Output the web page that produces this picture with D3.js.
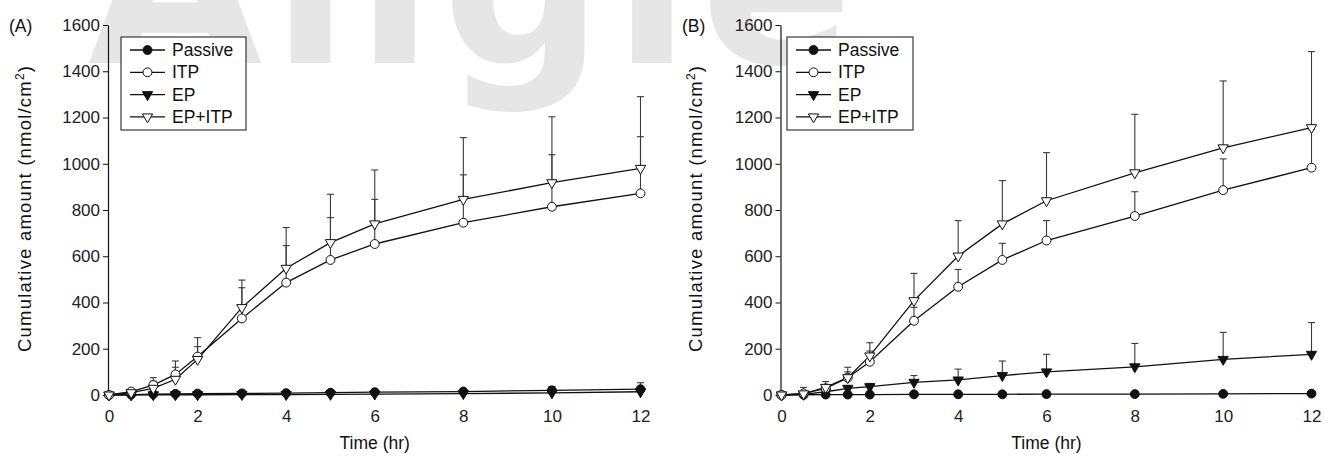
<!DOCTYPE html>
<html>
<head>
<meta charset="utf-8">
<script src="https://cdn.jsdelivr.net/npm/d3@7"></script>
<style>
  body { margin: 0; background: #fff; }
  svg { display: block; font-family: "Liberation Sans", Arial, Helvetica, sans-serif; }
</style>
</head>
<body>
<div id="chart"></div>
<script>
// sampling times (hr)
const times = [0, 0.5, 1, 1.5, 2, 3, 4, 5, 6, 8, 10, 12];
const yTicks = [0, 200, 400, 600, 800, 1000, 1200, 1400, 1600];
const xTicks = [0, 2, 4, 6, 8, 10, 12];
const seriesNames = ["Passive", "ITP", "EP", "EP+ITP"];

// panel A
const passiveA = [0, 2, 4, 5, 6, 7, 8, 10, 12, 15, 20, 25];
const passiveSdA = [0, 1, 2, 2, 2, 3, 3, 4, 5, 6, 17, 28];
const itpA = [0, 15, 43, 89, 166, 331, 486, 584, 653, 745, 814, 872];
const itpSdA = [0, 5, 32, 31, 43, 133, 160, 183, 193, 207, 225, 245];
const epA = [0, 0, 1, 1, 1, 2, 2, 3, 4, 6, 9, 14];
const epSdA = [0, 0, 1, 1, 1, 1, 2, 2, 2, 3, 5, 8];
const epItpA = [0, 10, 29, 68, 154, 378, 548, 659, 740, 846, 918, 980];
const epItpSdA = [0, 10, 31, 79, 94, 119, 176, 209, 233, 267, 285, 310];

// panel B
const passiveB = [0, 1, 2, 2, 2, 3, 3, 3, 4, 4, 5, 6];
const passiveSdB = [0, 1, 1, 1, 1, 1, 1, 1, 1, 2, 2, 2];
const itpB = [0, 7, 29, 75, 144, 321, 468, 584, 668, 774, 886, 983];
const itpSdB = [0, 10, 16, 25, 46, 58, 75, 72, 86, 105, 135, 167];
const epB = [0, 3, 14, 29, 36, 55, 65, 84, 100, 122, 154, 176];
const epSdB = [0, 3, 8, 12, 14, 29, 47, 63, 76, 101, 117, 137];
const epItpB = [0, 5, 33, 75, 169, 408, 601, 740, 840, 961, 1069, 1156];
const epItpSdB = [0, 28, 25, 45, 57, 118, 153, 187, 208, 253, 289, 329];

const W = 1324, H = 457;
const svg = d3.select("#chart").append("svg")
    .attr("width", W)
    .attr("height", H);

// faint background watermark
svg.append("text")
    .attr("x", 88)
    .attr("y", 63)
    .attr("textLength", 765)
    .attr("lengthAdjust", "spacing")
    .style("font-family", "'DejaVu Sans', sans-serif")
    .style("font-size", "225px")
    .style("font-weight", "bold")
    .style("fill", "#e6e6e6")
    .text("Angle");

// marker shapes
const circlePath = d3.symbol(d3.symbolCircle, 62)();
const triPath = d3.symbol(d3.symbolTriangle, 46)();
const markerStyle = {
    "Passive": { path: circlePath, fill: "#111", rotate: 0 },
    "ITP": { path: circlePath, fill: "#fff", rotate: 0 },
    "EP": { path: triPath, fill: "#111", rotate: 180 },
    "EP+ITP": { path: triPath, fill: "#fff", rotate: 180 }
};

function drawPanel(p) {
    const x = d3.scaleLinear().domain([0, 12]).range(p.xRange);
    const y = d3.scaleLinear().domain([0, 1600]).range([395, 25]);
    const g = svg.append("g");

    // y axis
    const ya = g.append("g")
        .attr("transform", `translate(${p.xRange[0] - 1},0)`)
        .call(d3.axisLeft(y).tickValues(yTicks).tickFormat(d3.format("d"))
            .tickSize(5).tickSizeOuter(0).tickPadding(3));
    ya.select(".domain").attr("stroke", "#111").attr("stroke-width", 1.2);
    ya.selectAll(".tick line").attr("stroke", "#111");
    ya.selectAll("text").style("font-size", "17px").attr("fill", "#222")
        .style("font-family", "'Liberation Sans', Arial, sans-serif");

    // x axis (labels only)
    const xa = g.append("g")
        .attr("transform", `translate(0,395)`)
        .call(d3.axisBottom(x).tickValues(xTicks).tickFormat(d3.format("d"))
            .tickSize(0).tickPadding(15));
    xa.select(".domain").remove();
    xa.selectAll("text").style("font-size", "17px").attr("fill", "#222")
        .style("font-family", "'Liberation Sans', Arial, sans-serif");

    // axis titles
    const yt = g.append("text")
        .attr("transform", `translate(${p.yTitleX},209) rotate(-90)`)
        .attr("text-anchor", "middle")
        .attr("textLength", 286)
        .attr("lengthAdjust", "spacing")
        .style("font-size", "18.5px")
        .attr("fill", "#111");
    yt.append("tspan").text("Cumulative amount (nmol/cm");
    yt.append("tspan").attr("dy", -7).style("font-size", "12px").text("2");
    yt.append("tspan").attr("dy", 7).text(")");

    g.append("text")
        .attr("x", (p.xRange[0] + p.xRange[1]) / 2)
        .attr("y", 449)
        .attr("text-anchor", "middle")
        .style("font-size", "17.5px")
        .attr("fill", "#111")
        .text("Time (hr)");

    g.append("text")
        .attr("x", p.labelX)
        .attr("y", 32)
        .style("font-size", "17.5px")
        .attr("fill", "#111")
        .text(p.label);

    const line = d3.line().x((d, i) => x(times[i])).y(d => y(d));

    // error bars (upper only)
    p.series.forEach(s => {
        const eb = g.append("g").attr("stroke", "#3a3a3a").attr("stroke-width", 1.1);
        times.forEach((t, i) => {
            if (s.sd[i] <= 0) return;
            const top = y(s.values[i] + s.sd[i]);
            eb.append("line")
                .attr("x1", x(t)).attr("x2", x(t))
                .attr("y1", y(s.values[i])).attr("y2", top);
            eb.append("line")
                .attr("x1", x(t) - 3.5).attr("x2", x(t) + 3.5)
                .attr("y1", top).attr("y2", top);
        });
    });

    // lines
    p.series.forEach(s => {
        g.append("path")
            .datum(s.values)
            .attr("d", line)
            .attr("fill", "none")
            .attr("stroke", "#111")
            .attr("stroke-width", 1.3);
    });

    // markers
    p.series.forEach(s => {
        const m = markerStyle[s.name];
        g.selectAll(null)
            .data(s.values)
            .enter()
            .append("path")
            .attr("d", m.path)
            .attr("transform", (d, i) => `translate(${x(times[i])},${y(d)}) rotate(${m.rotate})`)
            .attr("fill", m.fill)
            .attr("stroke", "#111")
            .attr("stroke-width", 1);
    });

    // legend
    const lg = g.append("g");
    lg.append("rect")
        .attr("x", p.legend.x).attr("y", 37)
        .attr("width", p.legend.w).attr("height", 93)
        .attr("fill", "#fff")
        .attr("stroke", "#111")
        .attr("stroke-width", 1);
    seriesNames.forEach((name, i) => {
        const cy = 50 + i * 22.3;
        const m = markerStyle[name];
        lg.append("line")
            .attr("x1", p.legend.x + 9).attr("x2", p.legend.x + 44)
            .attr("y1", cy).attr("y2", cy)
            .attr("stroke", "#111").attr("stroke-width", 1.3);
        lg.append("path")
            .attr("d", m.path)
            .attr("transform", `translate(${p.legend.x + 26.5},${cy}) rotate(${m.rotate})`)
            .attr("fill", m.fill)
            .attr("stroke", "#111");
        lg.append("text")
            .attr("x", p.legend.x + 51)
            .attr("y", cy + 6)
            .style("font-size", "17.5px")
            .attr("fill", "#111")
            .text(name);
    });
}

drawPanel({
    xRange: [109, 640.5],
    yTitleX: 31,
    label: "(A)",
    labelX: 9,
    legend: { x: 121, w: 125 },
    series: [
        { name: "Passive", values: passiveA, sd: passiveSdA },
        { name: "EP", values: epA, sd: epSdA },
        { name: "ITP", values: itpA, sd: itpSdA },
        { name: "EP+ITP", values: epItpA, sd: epItpSdA }
    ]
});

drawPanel({
    xRange: [781.5, 1311.5],
    yTitleX: 702,
    label: "(B)",
    labelX: 682,
    legend: { x: 787, w: 126 },
    series: [
        { name: "Passive", values: passiveB, sd: passiveSdB },
        { name: "EP", values: epB, sd: epSdB },
        { name: "ITP", values: itpB, sd: itpSdB },
        { name: "EP+ITP", values: epItpB, sd: epItpSdB }
    ]
});
</script>
</body>
</html>
